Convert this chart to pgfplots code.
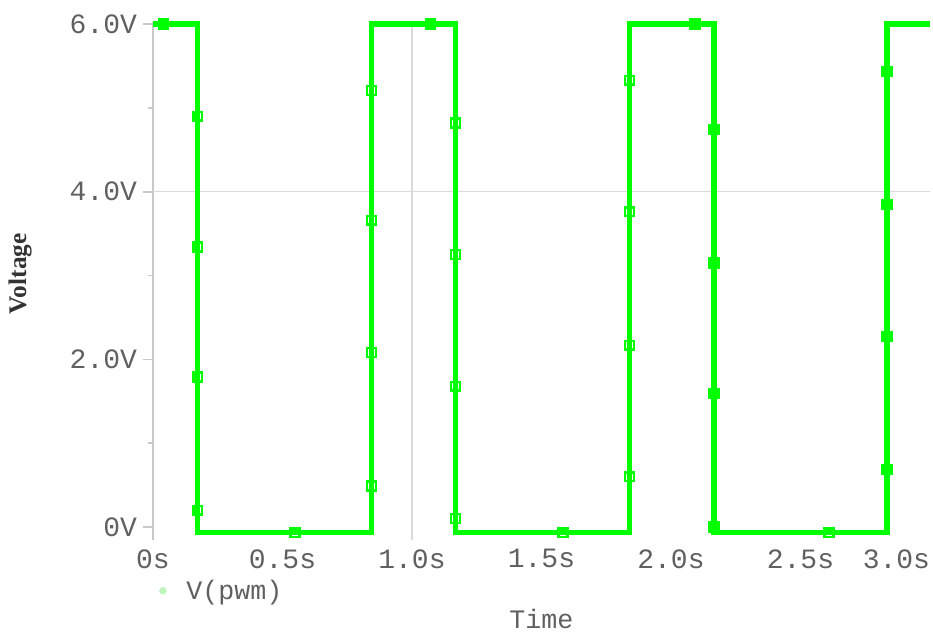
\documentclass[border=0pt]{standalone}
\usepackage{fontspec}
\setmainfont{Liberation Serif}
\newfontfamily\mono{Liberation Mono}
\usepackage{pgfplots}
\pgfplotsset{compat=1.18}
\definecolor{sig}{HTML}{00FF00}
\definecolor{lg}{HTML}{BDF5BD}
\definecolor{txt}{HTML}{606060}
\definecolor{axg}{HTML}{C8C8C8}
\definecolor{grd}{HTML}{DADADA}
\begin{document}
\begin{tikzpicture}[x=0.75pt,y=0.75pt]
\begin{axis}[
  at={(0,0)}, anchor=south west,
  scale only axis,
  width=582.75pt, height=388.5pt,
  xmin=0, xmax=3.0, ymin=-0.155, ymax=6.025,
  axis lines=left,
  axis line style={-},
  x axis line style={draw=none},
  y axis line style={draw=axg, line width=1.2pt},
  tick align=outside,
  xtick={0,0.5,1.0,1.5,2.0,2.5,3.0},
  xticklabels={0s,0.5s,1.0s,1.5s,2.0s,2.5s,\makebox[0pt][r]{3.0s}},
  ytick={0,2,4,6},
  yticklabels={0V,2.0V,4.0V,6.0V},
  minor y tick num=1,
  y tick style={draw=axg, line width=1.2pt},
  major tick length=7.5pt,
  minor tick length=4pt,
  x tick style={draw=none},
  xticklabel style={font=\mono\fontsize{21}{24}\selectfont, text=txt, yshift=4pt},
  yticklabel style={font=\mono\fontsize{21}{24}\selectfont, text=txt, xshift=-1pt},
  extra x ticks={1.0}, extra x tick labels={},
  extra x tick style={grid=major, major grid style={draw=grd, line width=0.8pt}},
  extra y ticks={4.0}, extra y tick labels={},
  extra y tick style={grid=major, major grid style={draw=grd, line width=0.8pt}},
  xlabel={Time},
  xlabel style={font=\mono\fontsize{20}{24}\selectfont, text=txt, inner sep=0pt, at={(axis description cs:0.5,-0.153)}, anchor=center},
  ylabel={Voltage},
  ylabel style={font=\fontsize{19}{22}\selectfont\bfseries, text=black!80, at={(axis description cs:-0.171,0.514)}, anchor=center},
  clip=false,
  legend style={draw=none, fill=none, at={(axis description cs:0.008,-0.098)}, anchor=west,
    font=\mono\fontsize{20}{24}\selectfont, text=txt, inner sep=0pt},
  legend cell align=left,
]
\addplot[sig, line width=3.9pt, forget plot] coordinates {
(0,6.0) (0.173,6.0) (0.173,-0.07) (0.843,-0.07) (0.843,6.0) (1.168,6.0) (1.168,-0.07) (1.84,-0.07) (1.84,6.0) (2.166,6.0) (2.166,-0.07) (2.834,-0.07) (2.834,6.0) (3.0,6.0)
};
\addplot[sig, only marks, mark=square, mark size=3.3pt, line width=1.8pt, forget plot] coordinates {
(0.04,6.0)
(0.173,4.90)(0.173,3.34)(0.173,1.79)(0.173,0.20)
(0.548,-0.07)
(0.843,5.21)(0.843,3.66)(0.843,2.08)(0.843,0.49)
(1.07,6.0)
(1.168,4.82)(1.168,3.25)(1.168,1.68)(1.168,0.10)
(1.583,-0.07)
(1.84,5.33)(1.84,3.76)(1.84,2.17)(1.84,0.60)
(2.093,6.0)
(2.166,4.74)(2.166,3.15)(2.166,1.59)(2.166,0.0)
(2.61,-0.07)
(2.834,5.43)(2.834,3.85)(2.834,2.27)(2.834,0.69)
};
\addlegendimage{only marks, mark=*, mark size=2.6pt, color=lg}
\addlegendentry{\hspace*{13pt}V(pwm)}
\end{axis}
\pgfresetboundingbox
\path[use as bounding box] (-153,-92) rectangle (780,540);
\end{tikzpicture}
\end{document}
